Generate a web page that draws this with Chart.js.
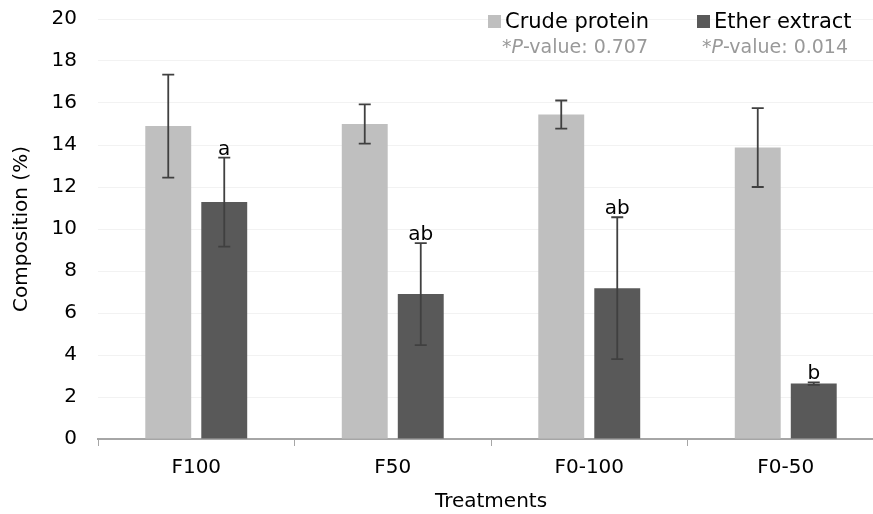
<!DOCTYPE html>
<html>
<head>
<meta charset="utf-8">
<script src="https://cdn.jsdelivr.net/npm/chart.js@4/dist/chart.umd.min.js"></script>
<style>
html,body{margin:0;padding:0;background:#fff;overflow:hidden;}
#wrap{width:894px;height:514px;position:relative;}
</style>
</head>
<body>
<div id="wrap"><canvas id="c" width="894" height="514"></canvas></div>
<script>
const categories = ["F100", "F50", "F0-100", "F0-50"];
const crudeProtein = [14.90, 15.00, 15.45, 13.88];
const crudeProteinErr = [2.45, 0.93, 0.67, 1.88];
const etherExtract = [11.28, 6.90, 7.18, 2.64];
const etherExtractErr = [2.12, 2.43, 3.38, 0.06];
const letters = ["a", "ab", "ab", "b"];
const pValues = ["0.707", "0.014"];
const yTicks = [0, 2, 4, 6, 8, 10, 12, 14, 16, 18, 20];

const FONT = "'DejaVu Sans', Verdana, sans-serif";
const errs = [crudeProteinErr, etherExtractErr];

const overlay = {
  id: 'overlay',
  afterDatasetsDraw(chart) {
    const ctx = chart.ctx;
    const ys = chart.scales.y;
    ctx.save();
    chart.data.datasets.forEach((ds, di) => {
      const meta = chart.getDatasetMeta(di);
      meta.data.forEach((bar, j) => {
        const v = ds.data[j], e = errs[di][j];
        const yT = ys.getPixelForValue(v + e), yB = ys.getPixelForValue(v - e);
        ctx.strokeStyle = '#404040';
        ctx.lineWidth = 1.8;
        ctx.beginPath();
        ctx.moveTo(bar.x, yT); ctx.lineTo(bar.x, yB);
        ctx.moveTo(bar.x - 6, yT); ctx.lineTo(bar.x + 6, yT);
        ctx.moveTo(bar.x - 6, yB); ctx.lineTo(bar.x + 6, yB);
        ctx.stroke();
        if (di === 1) {
          ctx.fillStyle = '#000';
          ctx.font = '20px ' + FONT;
          ctx.textAlign = 'center';
          ctx.textBaseline = 'alphabetic';
          ctx.fillText(letters[j], bar.x, yT - 3);
        }
      });
    });
    // legend
    const items = [
      {label: 'Crude protein', color: '#bfbfbf', x: 488, p: pValues[0], px: 502},
      {label: 'Ether extract', color: '#595959', x: 697, p: pValues[1], px: 702}
    ];
    items.forEach(it => {
      ctx.fillStyle = it.color;
      ctx.fillRect(it.x, 15, 13, 13);
      ctx.fillStyle = '#000';
      ctx.font = '21px ' + FONT;
      ctx.textAlign = 'left';
      ctx.textBaseline = 'alphabetic';
      ctx.fillText(it.label, it.x + 17, 28);
      ctx.fillStyle = '#999999';
      ctx.font = '19px ' + FONT;
      let x = it.px;
      ctx.fillText('*', x, 53); x += ctx.measureText('*').width;
      ctx.font = 'italic 19px ' + FONT;
      ctx.fillText('P', x, 53); x += ctx.measureText('P').width;
      ctx.font = '19px ' + FONT;
      ctx.fillText('-value: ' + it.p, x, 53);
    });
    ctx.restore();
  }
};

new Chart(document.getElementById('c'), {
  type: 'bar',
  data: {
    labels: categories,
    datasets: [
      {label: 'Crude protein', data: crudeProtein, backgroundColor: '#bfbfbf', borderWidth: 0,
       categoryPercentage: 0.57, barPercentage: 0.82},
      {label: 'Ether extract', data: etherExtract, backgroundColor: '#595959', borderWidth: 0,
       categoryPercentage: 0.57, barPercentage: 0.82}
    ]
  },
  options: {
    responsive: false,
    animation: false,
    layout: {padding: {top: 19, right: 10, left: 0, bottom: 0}},
    plugins: {legend: {display: false}, tooltip: {enabled: false}},
    scales: {
      x: {
        offset: true,
        grid: {display: true, offset: true, drawOnChartArea: false, color: '#a6a6a6', tickLength: 7, lineWidth: 1},
        border: {display: true, color: '#a6a6a6', width: 2},
        ticks: {color: '#000', font: {family: FONT, size: 20}, padding: 10},
        title: {display: true, text: 'Treatments', color: '#000', font: {family: FONT, size: 20}, padding: {top: 0, bottom: 0}},
        afterFit: s => { s.height = 75; s.paddingLeft = 0; s.paddingRight = 0; }
      },
      y: {
        min: 0, max: 20,
        afterBuildTicks: s => { s.ticks = yTicks.map(v => ({value: v})); },
        grid: {color: '#f2f2f2', drawTicks: false, lineWidth: 1},
        border: {display: false},
        ticks: {color: '#000', font: {family: FONT, size: 20}, padding: 21},
        title: {display: true, text: 'Composition (%)', color: '#000', font: {family: FONT, size: 20}, padding: {top: 10, bottom: 0}},
        afterFit: s => { s.width = 98; s.paddingTop = 0; s.paddingBottom = 0; }
      }
    }
  },
  plugins: [overlay]
});
</script>
</body>
</html>
